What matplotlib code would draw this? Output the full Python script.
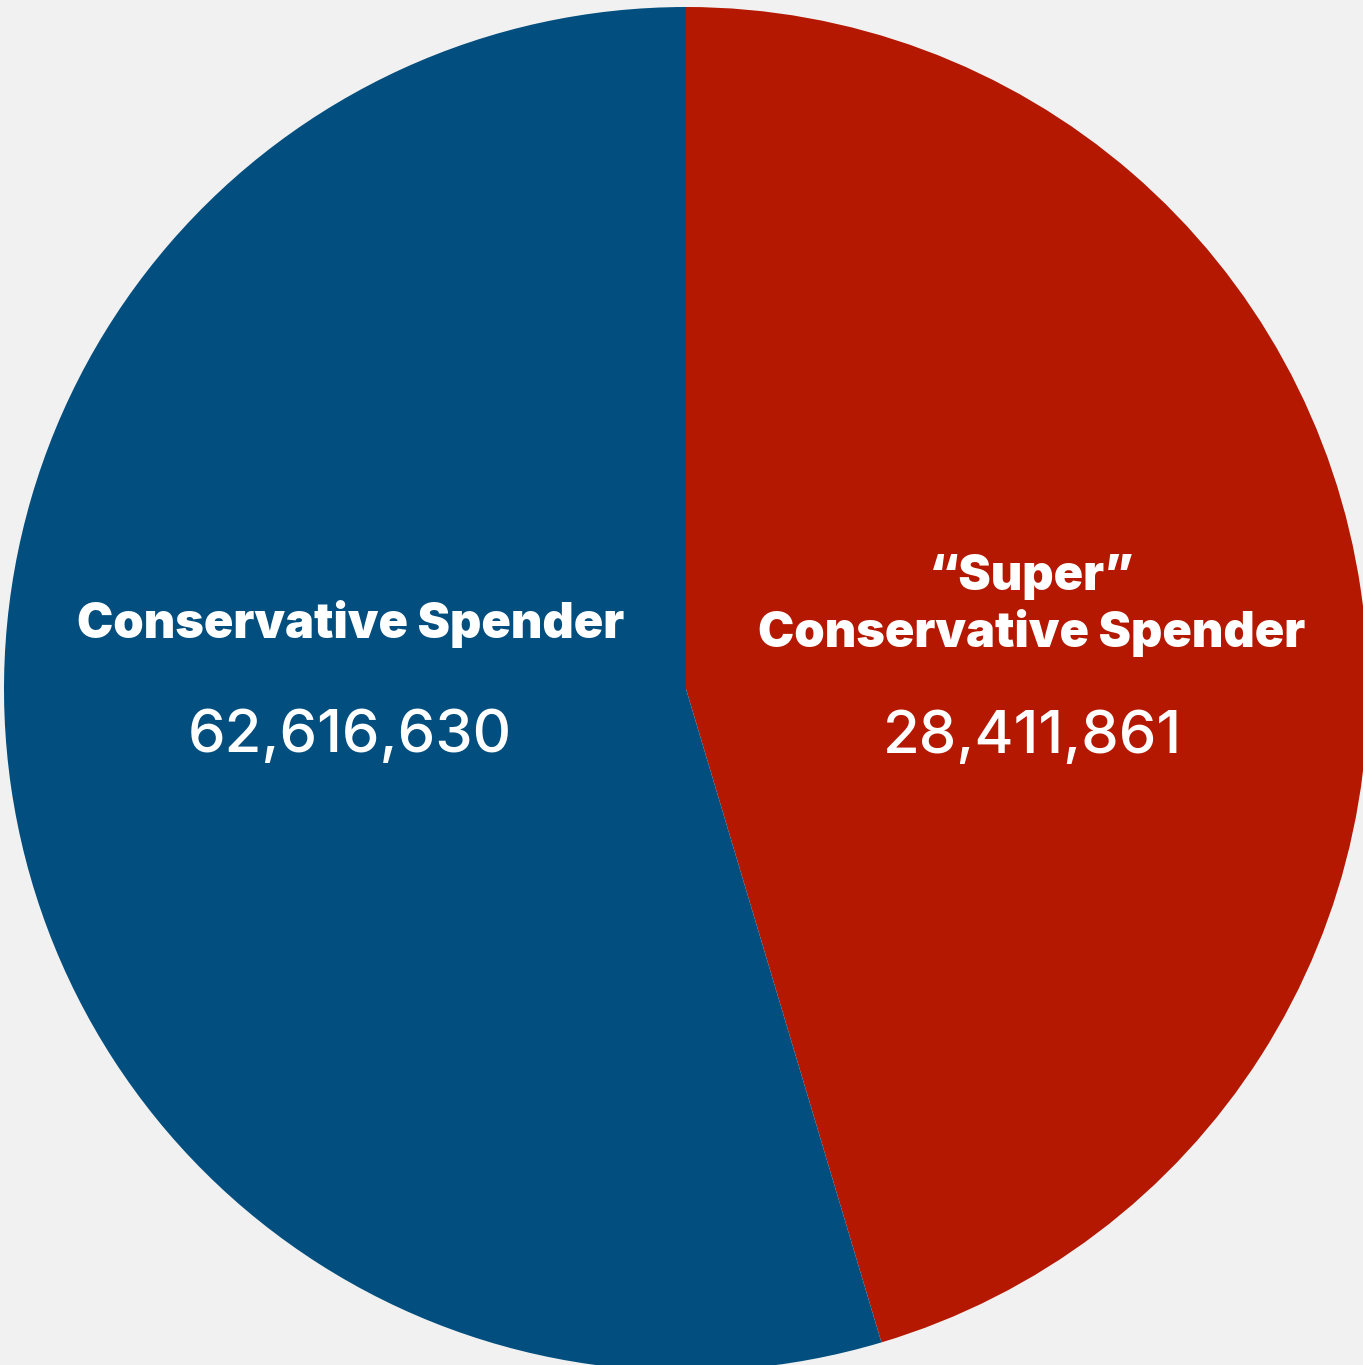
import matplotlib.pyplot as plt

# Spender groups; the "super" group sits inside the conservative total
groups = ["“Super”\nConservative Spender", "Conservative Spender"]
counts = [28411861, 62616630]
colors = ["#b51800", "#024e7e"]
background = "#f1f1f1"

W, H = 1363, 1365

fig = plt.figure(figsize=(W / 100, H / 100), dpi=100, facecolor=background)
ax = fig.add_axes([0, 0, 1, 1])

# red wedge = super group, blue wedge = the rest of the conservative total
super_count = counts[0]
rest_count = counts[1] - counts[0]
cx, cy, r = 686, H - 689, 682
ax.pie([super_count, rest_count], colors=colors, startangle=90,
       counterclock=False, center=(cx, cy), radius=r, frame=True,
       wedgeprops=dict(linewidth=0))
ax.set_xlim(0, W)
ax.set_ylim(0, H)
ax.set_aspect("equal")
ax.axis("off")


def img_y(y):
    return H - y


title_kw = dict(family="Inter", weight="black", fontsize=35, color="white",
                ha="center", va="baseline")
num_kw = dict(family="Inter", weight="medium", fontsize=43, color="white",
              ha="center", va="baseline")

# blue wedge labels
ax.text(351, img_y(638), groups[1], **title_kw)
ax.text(350, img_y(752), f"{counts[1]:,}", **num_kw)

# red wedge labels
ax.text(1032, img_y(590), "“Super”", **title_kw)
ax.text(1032, img_y(647), "Conservative Spender", **title_kw)
ax.text(1032, img_y(753), f"{counts[0]:,}", **num_kw)

fig.savefig("out.png", dpi=100, facecolor=background)
